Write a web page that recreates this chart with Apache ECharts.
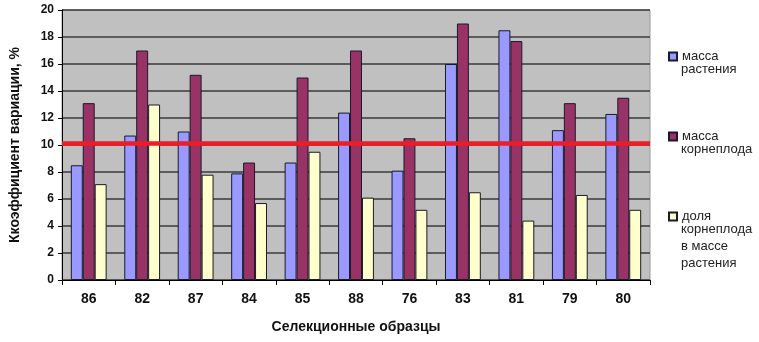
<!DOCTYPE html>
<html>
<head>
<meta charset="utf-8">
<script src="https://cdn.jsdelivr.net/npm/echarts@6/dist/echarts.min.js"></script>
<style>
  html, body { margin: 0; padding: 0; background: #fff; }
  #chart { width: 759px; height: 342px; }
</style>
</head>
<body>
<div id="chart"></div>
<script>
var categories = ['86', '82', '87', '84', '85', '88', '76', '83', '81', '79', '80'];
var massPlant = [8.5, 10.7, 11.0, 7.9, 8.7, 12.4, 8.1, 16.0, 18.5, 11.1, 12.3];
var massRoot = [13.1, 17.0, 15.2, 8.7, 15.0, 17.0, 10.5, 19.0, 17.7, 13.1, 13.5];
var shareRoot = [7.1, 13.0, 7.8, 5.7, 9.5, 6.1, 5.2, 6.5, 4.4, 6.3, 5.2];
var threshold = 10.1;
var seriesNames = ['масса растения', 'масса корнеплода', 'доля корнеплода в массе растения'];
var legendLines = [['масса', 'растения'], ['масса', 'корнеплода'], ['доля', 'корнеплода', 'в массе', 'растения']];

var font = '"Liberation Sans", Arial, sans-serif';
var lineH = 17;
var legendTops = [54, 134, 214]; // centre of the first line of each legend item
var legendX = 668;

var legendTextStyle = { fontFamily: font, fontSize: 13, color: '#222' };

// one legend per series: icon + first line; the rest of the lines follow as text below
var legends = [];
var extraText = [];
seriesNames.forEach(function (name, i) {
  legends.push({
    left: legendX,
    top: legendTops[i] - 8,
    data: [name],
    icon: 'rect',
    itemWidth: 8,
    itemHeight: 8,
    selectedMode: false,
    padding: [4, 0, 4, 0],
    formatter: function () { return legendLines[i][0]; },
    textStyle: legendTextStyle
  });
  legendLines[i].slice(1).forEach(function (line, j) {
    extraText.push({
      type: 'text',
      left: legendX + 13,
      top: legendTops[i] + (j + 1) * lineH - 8,
      style: { text: line, font: '13px ' + font, fill: '#222' }
    });
  });
});

var option = {
  animation: false,
  backgroundColor: '#fff',
  textStyle: { fontFamily: font },
  grid: {
    left: 57,
    right: 109,
    top: 10,
    bottom: 62,
    show: true,
    backgroundColor: '#c0c0c0',
    borderColor: '#9a9a9a',
    borderWidth: 1
  },
  legend: legends,
  graphic: extraText,
  xAxis: {
    type: 'category',
    data: categories,
    name: 'Селекционные образцы',
    nameLocation: 'middle',
    nameGap: 40,
    nameTextStyle: { fontFamily: font, fontSize: 14, fontWeight: 'bold', color: '#111' },
    axisLine: { lineStyle: { color: '#000', width: 1 } },
    axisTick: { show: true, length: 5, lineStyle: { color: '#000' } },
    axisLabel: { fontFamily: font, fontSize: 14, fontWeight: 'bold', color: '#111', margin: 12 }
  },
  yAxis: {
    type: 'value',
    min: 0,
    max: 20,
    interval: 2,
    name: 'Ккоэффициент вариации, %',
    nameLocation: 'middle',
    nameGap: 40,
    nameTextStyle: { fontFamily: font, fontSize: 14, fontWeight: 'bold', color: '#111' },
    axisLine: { show: true, lineStyle: { color: '#000', width: 1 } },
    axisTick: { show: true, length: 4, lineStyle: { color: '#000' } },
    axisLabel: { fontFamily: font, fontSize: 12, fontWeight: 'bold', color: '#111', margin: 8 },
    splitLine: { lineStyle: { color: '#3a3a3a', width: 1.5 } }
  },
  series: [
    {
      name: seriesNames[0],
      type: 'bar',
      data: massPlant,
      barGap: '0%',
      barCategoryGap: '33%',
      itemStyle: { color: '#9999ff', borderColor: '#1a1a2a', borderWidth: 1 }
    },
    {
      name: seriesNames[1],
      type: 'bar',
      data: massRoot,
      itemStyle: { color: '#993366', borderColor: '#1a1a2a', borderWidth: 1 },
      markLine: {
        silent: true,
        symbol: 'none',
        label: { show: false },
        lineStyle: { color: '#ee1c24', width: 4.5, type: 'solid' },
        data: [{ yAxis: threshold }]
      }
    },
    {
      name: seriesNames[2],
      type: 'bar',
      data: shareRoot,
      itemStyle: { color: '#ffffcc', borderColor: '#1a1a2a', borderWidth: 1 }
    }
  ]
};

var myChart = echarts.init(document.getElementById('chart'));
myChart.setOption(option, true);
</script>
</body>
</html>
